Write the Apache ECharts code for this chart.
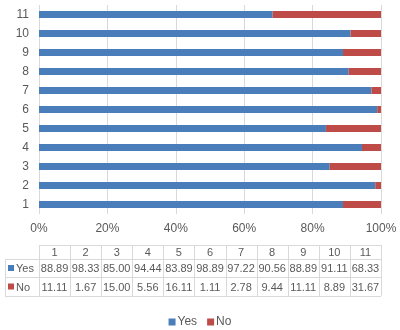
<!DOCTYPE html>
<html><head><meta charset="utf-8">
<script src="https://cdn.jsdelivr.net/npm/echarts@6/dist/echarts.min.js"></script>
<style>html,body{margin:0;padding:0;background:#fff}#c{width:400px;height:330px}</style>
</head><body><div id="c"></div>
<script>
var categories = ['1','2','3','4','5','6','7','8','9','10','11'];
var yesValues = [88.89, 98.33, 85.00, 94.44, 83.89, 98.89, 97.22, 90.56, 88.89, 91.11, 68.33];
var noValues = [11.11, 1.67, 15.00, 5.56, 16.11, 1.11, 2.78, 9.44, 11.11, 8.89, 31.67];
var seriesNames = ['Yes', 'No'];
var tickLabels = ['0%','20%','40%','60%','80%','100%'];

var FONT = 'Liberation Sans';
var TXT = '#595959';
var BLUE = '#4a7ebb';
var RED = '#be4b48';
var GRID_L = 39, GRID_R = 19, GRID_T = 5, GRID_B = 116;

var chart = echarts.init(document.getElementById('c'), null, {renderer: 'canvas'});

function buildTable() {
  var W = 400;
  var x0 = GRID_L, x1 = W - GRID_R;
  var colW = (x1 - x0) / categories.length;
  var rows = [245, 259, 277, 296];
  var leftX = 5;
  var lineColor = '#d9d9d9';
  var els = [];
  function line(ax, ay, bx, by) {
    els.push({type: 'line', shape: {x1: ax, y1: ay, x2: bx, y2: by}, style: {stroke: lineColor, lineWidth: 1}, silent: true});
  }
  line(x0, rows[0] + 0.5, x1, rows[0] + 0.5);
  for (var r = 1; r < rows.length; r++) line(leftX, rows[r] + 0.5, x1, rows[r] + 0.5);
  line(leftX + 0.5, rows[1], leftX + 0.5, rows[3]);
  for (var i = 0; i <= categories.length; i++) {
    var xx = Math.round(x0 + i * colW) + 0.5;
    line(xx, rows[0], xx, rows[3]);
  }
  function txt(x, y, s, align) {
    els.push({type: 'text', x: x, y: y, style: {text: s, fill: TXT, font: '11px "' + FONT + '"', textAlign: align || 'center', textVerticalAlign: 'middle'}, silent: true});
  }
  var data = [yesValues, noValues];
  var colors = [BLUE, RED];
  for (var c = 0; c < categories.length; c++) {
    var cx = x0 + (c + 0.5) * colW;
    txt(cx, (rows[0] + rows[1]) / 2 + 1, categories[c]);
    for (var s = 0; s < 2; s++) {
      txt(cx, (rows[s + 1] + rows[s + 2]) / 2 + 1, data[s][c].toFixed(2));
    }
  }
  for (var s2 = 0; s2 < 2; s2++) {
    var cy = (rows[s2 + 1] + rows[s2 + 2]) / 2;
    els.push({type: 'rect', shape: {x: leftX + 3, y: cy - 3, width: 6, height: 6}, style: {fill: colors[s2]}, silent: true});
    txt(leftX + 11, cy + 1, seriesNames[s2], 'left');
  }
  return els;
}

chart.setOption({
  animation: false,
  textStyle: {fontFamily: FONT},
  grid: {left: GRID_L, right: GRID_R, top: GRID_T, bottom: GRID_B, containLabel: false},
  xAxis: {
    type: 'value', min: 0, max: 100, interval: 20,
    axisLine: {show: false}, axisTick: {show: false},
    splitLine: {show: true, lineStyle: {color: '#d9d9d9', width: 1}},
    axisLabel: {color: TXT, fontSize: 12, fontFamily: FONT, margin: 9,
      formatter: function (v) { return tickLabels[Math.round(v / 20)]; }}
  },
  yAxis: {
    type: 'category', data: categories,
    axisLine: {show: false}, axisTick: {show: false},
    axisLabel: {color: TXT, fontSize: 12, fontFamily: FONT, margin: 10}
  },
  legend: {
    bottom: 2, left: 'center', padding: 0, itemWidth: 7, itemHeight: 7, itemGap: 10,
    icon: 'rect', textStyle: {color: TXT, fontSize: 12, fontFamily: FONT, padding: [0, 0, 0, -3]},
    data: seriesNames
  },
  series: [
    {name: seriesNames[0], type: 'bar', stack: 'a', data: yesValues, barWidth: 7, itemStyle: {color: BLUE}},
    {name: seriesNames[1], type: 'bar', stack: 'a', data: noValues, barWidth: 7, itemStyle: {color: RED}}
  ],
  graphic: buildTable()
});
</script></body></html>
